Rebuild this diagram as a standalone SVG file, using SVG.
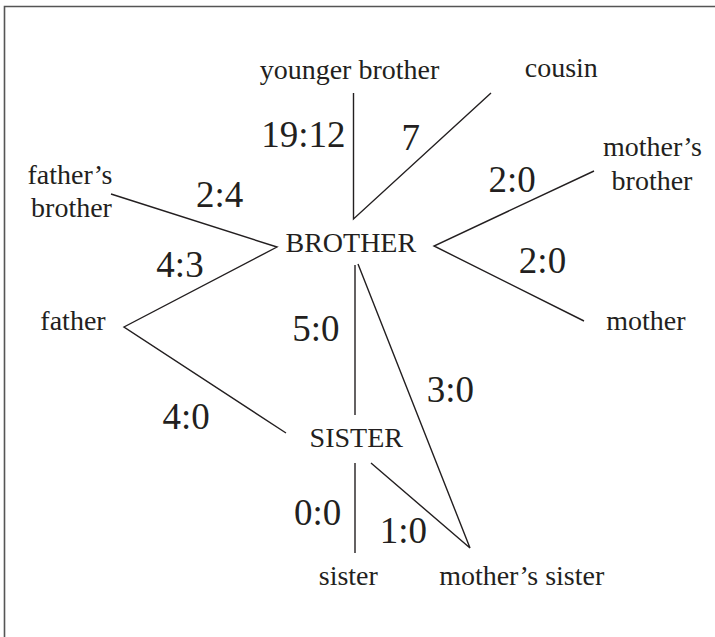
<svg xmlns="http://www.w3.org/2000/svg" width="715" height="637" viewBox="0 0 715 637">
<style>
text{fill:#231f20;text-anchor:middle}
.lbl{font-size:28px}
.num{font-size:37px}
.edge{stroke:#231f20;stroke-width:1.4;fill:none}
</style>
<rect width="715" height="637" fill="#fff"/>
<path d="M4.5,637 V6.5 H715" fill="none" stroke="#555" stroke-width="1.6"/>
<g id="connectors">
<path class="edge" d="M111,194 L277,247 L124,327 L286,433"/>
<path class="edge" d="M353.5,93 V219 L491,93"/>
<path class="edge" d="M594,171 L434,246 L584,321"/>
<path class="edge" d="M355,265 V415"/>
<path class="edge" d="M358,264 L470,548 L371,463"/>
<path class="edge" d="M355,463 V553"/>
</g>
<g font-family="Liberation Serif, Times New Roman, DejaVu Serif, serif">
<g id="labels-edges">
<text class="num" x="303.3" y="146.7">19:12</text>
<text class="num" x="410.8" y="150">7</text>
<text class="num" x="219.7" y="206.7">2:4</text>
<text class="num" x="512.2" y="191.7">2:0</text>
<text class="num" x="542.5" y="273.3">2:0</text>
<text class="num" x="180" y="276.7">4:3</text>
<text class="num" x="315.8" y="340.7">5:0</text>
<text class="num" x="186.2" y="429.3">4:0</text>
<text class="num" x="450.3" y="401.7">3:0</text>
<text class="num" x="317.7" y="525">0:0</text>
<text class="num" x="403.3" y="543.3">1:0</text>
</g>
<g id="node-brother"><text class="lbl" x="350.8" y="252">BROTHER</text></g>
<g id="node-sister-center"><text class="lbl" x="356.3" y="447.3">SISTER</text></g>
<g id="node-younger-brother"><text class="lbl" x="349.5" y="79">younger brother</text></g>
<g id="node-cousin"><text class="lbl" x="561.3" y="77.3">cousin</text></g>
<g id="node-fathers-brother"><text class="lbl" x="70" y="184">father’s</text><text class="lbl" x="71.5" y="217.3">brother</text></g>
<g id="node-mothers-brother"><text class="lbl" x="652.5" y="156">mother’s</text><text class="lbl" x="652" y="190">brother</text></g>
<g id="node-father"><text class="lbl" x="73" y="330">father</text></g>
<g id="node-mother"><text class="lbl" x="645.8" y="330">mother</text></g>
<g id="node-sister"><text class="lbl" x="348.3" y="585">sister</text></g>
<g id="node-mothers-sister"><text class="lbl" x="521.7" y="585">mother’s sister</text></g>
</g>
</svg>
